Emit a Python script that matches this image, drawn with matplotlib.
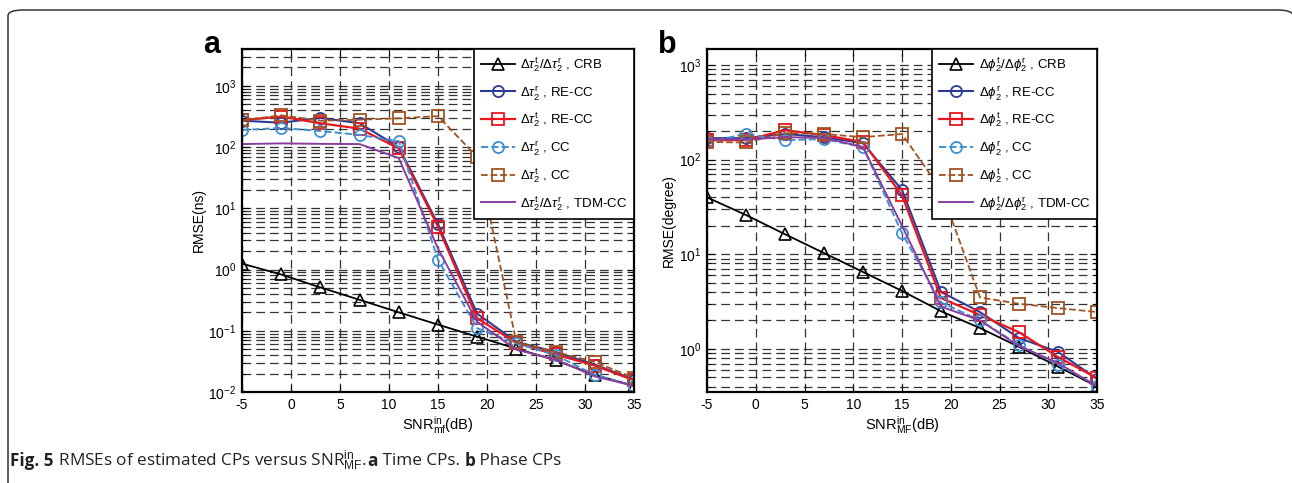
import numpy as np
import matplotlib
matplotlib.use("Agg")
import matplotlib.pyplot as plt
from matplotlib.patches import FancyBboxPatch
from matplotlib.ticker import LogLocator, NullFormatter, FixedLocator

plt.rcParams['font.family'] = ['Liberation Sans', 'DejaVu Sans']
plt.rcParams['mathtext.fontset'] = 'custom'
plt.rcParams['mathtext.rm'] = 'Liberation Sans'
plt.rcParams['mathtext.it'] = 'Liberation Sans:italic'
plt.rcParams['mathtext.bf'] = 'Liberation Sans:bold'
plt.rcParams['axes.unicode_minus'] = False

# SNR (dB)
snr = [-5, -1, 3, 7, 11, 15, 19, 23, 27, 31, 35]

# panel a: time CPs, RMSE (ns)
a_crb = [1.25, 0.83, 0.51, 0.32, 0.20, 0.126, 0.08, 0.051, 0.033, 0.019, 0.0126]
a_re_r = [270, 250, 300, 245, 100, 5.5, 0.19, 0.066, 0.045, 0.028, 0.016]
a_re_t = [275, 315, 245, 200, 95, 5.0, 0.16, 0.063, 0.041, 0.027, 0.0155]
a_cc_r = [190, 205, 183, 158, 125, 1.45, 0.11, 0.062, 0.040, 0.019, 0.0126]
a_cc_t = [275, 330, 270, 280, 295, 320, 69, 0.065, 0.045, 0.031, 0.017]
a_tdm = [112, 115, 113, 112, 66, 2.2, 0.14, 0.049, 0.034, 0.018, 0.0126]

# panel b: phase CPs, RMSE (degree)
b_crb = [40, 26, 16.3, 10.3, 6.5, 4.1, 2.5, 1.66, 1.05, 0.65, 0.40]
b_re_r = [169, 169, 187, 173, 149, 48, 4.0, 2.45, 1.3, 0.93, 0.48]
b_re_t = [161, 161, 205, 182, 154, 42, 3.45, 2.28, 1.5, 0.82, 0.49]
b_cc_r = [154, 187, 161, 165, 136, 16.7, 3.1, 2.0, 1.1, 0.68, 0.41]
b_cc_t = [154, 152, 191, 187, 173, 187, 48, 3.5, 3.0, 2.7, 2.45]
b_tdm = [165, 163, 173, 170, 136, 20, 2.8, 2.0, 1.07, 0.71, 0.40]

c_blue = '#2e3b96'
c_red = '#e8161e'
c_lblue = '#3f8fd2'
c_brown = '#a2521f'
c_purple = '#8a3fa0'

fig = plt.figure(figsize=(12.92, 4.83), dpi=100)
W, H = 1292, 483


def frac(x0, y0, x1, y1):
    return [x0 / W, 1 - y1 / H, (x1 - x0) / W, (y1 - y0) / H]


ax_a = fig.add_axes(frac(242, 49, 634, 392))
ax_b = fig.add_axes(frac(707, 49, 1097, 392))


def panel(ax, vals, sym, ylim, ylabel, xlabel):
    crb, re_r, re_t, cc_r, cc_t, tdm = vals
    ms = 8
    ax.plot(snr, crb, '-', color='k', lw=1.3, marker='^', ms=ms, mfc='none', mew=1.2,
            label=r'$\mathit{\Delta %s}_2^{\mathrm{t}}/\mathit{\Delta %s}_2^{\mathrm{r}}$ , CRB' % (sym, sym))
    ax.plot(snr, re_r, '-', color=c_blue, lw=1.5, marker='o', ms=ms, mfc='none', mew=1.3,
            label=r'$\mathit{\Delta %s}_2^{\mathrm{r}}$ , RE-CC' % sym)
    ax.plot(snr, re_t, '-', color=c_red, lw=1.6, marker='s', ms=ms, mfc='none', mew=1.3,
            label=r'$\mathit{\Delta %s}_2^{\mathrm{t}}$ , RE-CC' % sym)
    ax.plot(snr, cc_r, '--', color=c_lblue, lw=1.4, marker='o', ms=ms, mfc='none', mew=1.3,
            label=r'$\mathit{\Delta %s}_2^{\mathrm{r}}$ , CC' % sym)
    ax.plot(snr, cc_t, '--', color=c_brown, lw=1.3, marker='s', ms=ms, mfc='none', mew=1.3,
            label=r'$\mathit{\Delta %s}_2^{\mathrm{t}}$ , CC' % sym)
    ax.plot(snr, tdm, '-', color=c_purple, lw=1.4,
            label=r'$\mathit{\Delta %s}_2^{\mathrm{t}}/\mathit{\Delta %s}_2^{\mathrm{r}}$ , TDM-CC' % (sym, sym))
    ax.set_yscale('log')
    ax.set_xlim(-5, 35)
    ax.set_ylim(*ylim)
    ax.xaxis.set_major_locator(FixedLocator([-5, 0, 5, 10, 15, 20, 25, 30, 35]))
    ax.yaxis.set_major_locator(LogLocator(base=10, numticks=20))
    ax.yaxis.set_minor_locator(LogLocator(base=10, subs=np.arange(2, 10), numticks=20))
    ax.yaxis.set_minor_formatter(NullFormatter())
    ax.grid(True, which='major', axis='both', color='#333333', lw=0.9, ls=(0, (7, 4)))
    ax.grid(True, which='minor', axis='y', color='#333333', lw=0.9, ls=(0, (7, 4)))
    ax.set_axisbelow(True)
    ax.tick_params(which='both', direction='in', top=True, right=True, labelsize=10, pad=4)
    ax.tick_params(which='major', length=5)
    ax.tick_params(which='minor', length=3)
    for s in ax.spines.values():
        s.set_linewidth(1.6)
    ax.set_ylabel(ylabel, fontsize=10, labelpad=2)
    ax.set_xlabel(xlabel, fontsize=10.5, labelpad=2)
    leg = ax.legend(loc='upper right', borderaxespad=0, fontsize=9.5, handlelength=2.6,
                    labelspacing=0.7, borderpad=0.5, fancybox=False, framealpha=1,
                    edgecolor='k', handletextpad=0.4)
    leg.get_frame().set_linewidth(1.2)
    leg.set_zorder(10)


panel(ax_a, [a_crb, a_re_r, a_re_t, a_cc_r, a_cc_t, a_tdm], r'\tau', (1e-2, 4e3),
      'RMSE(ns)', r'SNR$_{\mathrm{mf}}^{\mathrm{in}}$(dB)')
panel(ax_b, [b_crb, b_re_r, b_re_t, b_cc_r, b_cc_t, b_tdm], r'\phi', (0.35, 1480),
      'RMSE(degree)', r'SNR$_{\mathrm{MF}}^{\mathrm{in}}$(dB)')

fig.text(212 / W, 1 - 45 / H, 'a', fontsize=22, fontweight='bold', ha='center', va='center')
fig.text(667 / W, 1 - 45 / H, 'b', fontsize=22, fontweight='bold', ha='center', va='center')

# outer frame with rounded top corners
frame = FancyBboxPatch((8 / W, -0.2), (1285 / W), 1 - 10 / H + 0.2,
                       boxstyle='round,pad=0,rounding_size=0.012',
                       transform=fig.transFigure, fill=False, edgecolor='#333333', lw=1.1)
fig.patches.append(frame)

# caption
r = fig.canvas.get_renderer()
pieces = [('Fig. 5', 'bold'), (' RMSEs of estimated CPs versus SNR$_{\\mathrm{MF}}^{\\mathrm{in}}$. ', 'normal'),
          ('a', 'bold'), (' Time CPs. ', 'normal'), ('b', 'bold'), (' Phase CPs', 'normal')]
x = 10 / W
for s, w in pieces:
    t = fig.text(x, 1 - 461 / H, s, fontsize=12.3, fontweight=w, va='center',
                 family=['Open Sans', 'DejaVu Sans'], color='#222222')
    x += t.get_window_extent(r).width / fig.bbox.width

fig.savefig('out.png', dpi=100)
